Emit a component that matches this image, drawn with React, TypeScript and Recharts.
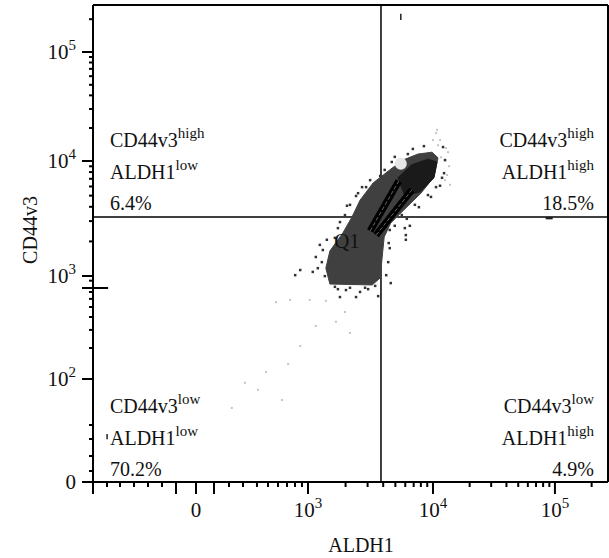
import React from 'react';
import { ScatterChart, Scatter, XAxis, YAxis, ReferenceLine } from 'recharts';

const FONT = '"Liberation Serif", "Times New Roman", serif';

// Display channels (0–1024) of the biexponential ALDH1 / CD44v3 axes
const xTicks = [0, 27.8, 53.7, 81.5, 109.4, 137.2, 165.0, 204.8, 240.6, 270.4, 298.2, 326.0, 347.9, 367.8, 385.7, 401.6, 415.5, 427.5, 502.2, 546.0, 577.0, 601.2, 620.9, 637.6, 651.9, 664.6, 676.0, 748.9, 791.7, 822.1, 845.5, 864.6, 880.9, 895.0, 907.4, 918.5, 991.5];
const xLongTicks = [0, 165.0, 204.8, 240.6, 427.5, 676.0, 918.5];
const xLabelTicks = [204.8, 427.5, 676.0, 918.5];
const xLabelBase = ['0', '10', '10', '10'];
const xLabelExp = ['', '3', '4', '5'];

const yTicks = [0, 23.6, 55.8, 92.3, 122.4, 221.1, 287.7, 326.5, 354.2, 375.7, 393.1, 407.9, 416.5, 432.2, 442.2, 516.5, 560.1, 590.8, 614.8, 634.4, 650.9, 665.3, 677.7, 689.1, 760.0, 800.8, 830.0, 852.7, 871.2, 886.9, 900.6, 912.4, 923.1, 993.5];
const yLongTicks = [0, 221.1, 416.5, 442.2, 689.1, 923.1];
const yLabelTicks = [0, 221.1, 442.2, 689.1, 923.1];
const yLabelBase = ['0', '10', '10', '10', '10'];
const yLabelExp = ['', '2', '3', '4', '5'];

// Quadrant gate positions
const aldhGate = 572.6;
const cd44Gate = 568.9;

// Dense event region outline
const clusterX = [471, 463, 471, 497, 515, 531, 557, 590, 616, 646, 674, 686, 678, 652, 618, 592, 579, 575, 571, 555];
const clusterY = [425, 459, 496, 535, 569, 605, 642, 670, 691, 704, 708, 696, 655, 620, 584, 556, 526, 483, 438, 423];
// Highest-density core
const coreX = [606, 634, 666, 684, 678, 650, 620];
const coreY = [653, 681, 693, 687, 653, 623, 614];

// Sparse events
const darkDotX = [455, 447, 443, 461, 437, 487, 503, 531, 547, 583, 587, 590, 592, 487, 505, 523, 543, 571, 600, 636, 658, 696, 700, 698, 690, 672, 648, 624, 412, 402, 620, 622, 622, 630, 491, 523, 567,
  457, 451, 465, 481, 491, 501, 511, 527, 535, 551, 580, 594, 626, 588, 590, 600, 614, 640, 666, 682, 694, 481, 511, 541, 561];
const darkDotY = [472, 459, 483, 442, 451, 414, 412, 408, 414, 444, 472, 502, 427, 545, 593, 614, 633, 657, 698, 715, 721, 719, 691, 663, 636, 612, 590, 565, 455, 444, 545, 530, 520, 550, 397, 397, 399,
  498, 509, 520, 524, 558, 573, 595, 620, 633, 648, 670, 687, 704, 513, 541, 550, 573, 595, 616, 633, 653, 419, 417, 417, 421];
const lightDotX = [690, 682, 706, 708, 700, 392, 431, 463, 364, 501, 483, 511, 443, 412, 388, 344, 328, 302, 376, 276, 686, 676, 702, 692, 704, 710, 684];
const lightDotY = [734, 749, 708, 678, 648, 391, 391, 389, 386, 365, 344, 320, 335, 292, 253, 236, 198, 213, 176, 159, 723, 734, 717, 697, 659, 638, 756];
const haloX = [612];
const haloY = [683];

// Gate drawing (bars of the P1 polygon)
const bar1X = [551, 608];
const bar1Y = [539, 646];
const bar2X = [563, 634];
const bar2Y = [530, 627];

const quadPct = ['6.4%', '18.5%', '70.2%', '4.9%'];

const zip = (xs: number[], ys: number[]) => xs.map((x, i) => ({ x, y: ys[i] }));

const XTick = (props: any) => {
  const { x, y, payload } = props;
  const v = payload.value;
  const long = xLongTicks.includes(v);
  const li = xLabelTicks.indexOf(v);
  return (
    <g>
      <line x1={x} x2={x} y1={y} y2={y + (long ? 12 : 5)} stroke="#000" strokeWidth={2} />
      {li >= 0 && (
        <text x={x} y={y + 35} textAnchor="middle" fontFamily={FONT} fontSize={21} fill="#111">
          {xLabelBase[li]}
          {xLabelExp[li] && (
            <tspan dy={-9} fontSize={15}>
              {xLabelExp[li]}
            </tspan>
          )}
        </text>
      )}
    </g>
  );
};

const YTick = (props: any) => {
  const { x, y, payload } = props;
  const v = payload.value;
  const long = yLongTicks.includes(v);
  const li = yLabelTicks.indexOf(v);
  return (
    <g>
      <line x1={x} x2={x - (long ? 11 : 4)} y1={y} y2={y} stroke="#000" strokeWidth={2} />
      {li >= 0 && (
        <text x={x - 17} y={y + 7} textAnchor="end" fontFamily={FONT} fontSize={21} fill="#111">
          {yLabelBase[li]}
          {yLabelExp[li] && (
            <tspan dy={-9} fontSize={15}>
              {yLabelExp[li]}
            </tspan>
          )}
        </text>
      )}
    </g>
  );
};

const polygonLine = (fill: string) => (p: any) => (
  <polygon
    points={(p.points || []).map((q: any) => `${q.x},${q.y}`).join(' ')}
    fill={fill}
    stroke={fill}
    strokeWidth={1}
  />
);

const Nothing = () => <g />;
const dot = (fill: string, s: number) => (p: any) => (
  <rect x={p.cx - s / 2} y={p.cy - s / 2} width={s} height={s} fill={fill} />
);

const QuadLabel = ({ x, y, anchor, sup1, sup2, pct }: any) => (
  <g fontFamily={FONT} fontSize={20} fill="#111" textAnchor={anchor}>
    <text x={x} y={y}>
      CD44v3<tspan dy={-9} fontSize={15}>{sup1}</tspan>
    </text>
    <text x={x} y={y + 32}>
      ALDH1<tspan dy={-9} fontSize={15}>{sup2}</tspan>
    </text>
    <text x={x} y={y + 63}>{pct}</text>
  </g>
);

export default function App() {
  return (
    <div style={{ position: 'absolute', left: 0, top: 0, width: 609, height: 558, background: '#fff' }}>
      <ScatterChart width={609} height={558} margin={{ top: 5, right: 1, bottom: 0, left: 0 }}>
        <XAxis
          type="number"
          dataKey="x"
          domain={[0, 1024]}
          ticks={xTicks}
          interval={0}
          height={76}
          tickSize={0}
          tickMargin={0}
          tickLine={false}
          axisLine={{ stroke: '#000', strokeWidth: 2 }}
          tick={<XTick />}
          allowDataOverflow
        />
        <YAxis
          type="number"
          dataKey="y"
          domain={[0, 1024]}
          ticks={yTicks}
          interval={0}
          width={93}
          tickSize={0}
          tickMargin={0}
          tickLine={false}
          axisLine={{ stroke: '#000', strokeWidth: 2 }}
          tick={<YTick />}
          allowDataOverflow
        />
        <Scatter data={zip(lightDotX, lightDotY)} fill="#c4c4c4" shape={dot('#c4c4c4', 2)} isAnimationActive={false} />
        <Scatter
          data={zip(clusterX, clusterY)}
          fill="#404040"
          shape={Nothing}
          line={polygonLine('#404040')}
          lineType="joint"
          isAnimationActive={false}
        />
        <Scatter
          data={zip(coreX, coreY)}
          fill="#1a1a1a"
          shape={Nothing}
          line={polygonLine('#1a1a1a')}
          lineType="joint"
          isAnimationActive={false}
        />
        <Scatter data={zip(darkDotX, darkDotY)} fill="#333" shape={dot('#333', 2.5)} isAnimationActive={false} />
        <Scatter
          data={zip(haloX, haloY)}
          fill="#e6e6e6"
          shape={(p: any) => <circle cx={p.cx} cy={p.cy} r={6} fill="#e6e6e6" />}
          isAnimationActive={false}
        />
        <Scatter data={zip(bar1X, bar1Y)} fill="#000" shape={Nothing} line={{ stroke: '#000', strokeWidth: 7 }} lineType="joint" isAnimationActive={false} />
        <Scatter data={zip(bar2X, bar2Y)} fill="#000" shape={Nothing} line={{ stroke: '#000', strokeWidth: 7 }} lineType="joint" isAnimationActive={false} />
        <Scatter data={zip(bar1X, bar1Y)} fill="#666" shape={Nothing} line={{ stroke: '#666', strokeWidth: 1, strokeDasharray: '4 2' }} lineType="joint" isAnimationActive={false} />
        <Scatter data={zip(bar2X, bar2Y)} fill="#666" shape={Nothing} line={{ stroke: '#666', strokeWidth: 1, strokeDasharray: '4 2' }} lineType="joint" isAnimationActive={false} />
        <ReferenceLine segment={[{ x: 483, y: 459.4 }, { x: 541, y: 459.4 }]} stroke="#000" strokeWidth={1.5} />
        <ReferenceLine segment={[{ x: 541, y: 459.4 }, { x: 541, y: 438 }]} stroke="#000" strokeWidth={1.5} />
        <ReferenceLine segment={[{ x: 612, y: 1005 }, { x: 612, y: 992 }]} stroke="#222" strokeWidth={1.5} />
        <ReferenceLine segment={[{ x: 900, y: 566 }, { x: 914, y: 566 }]} stroke="#222" strokeWidth={2} />
        <ReferenceLine segment={[{ x: 28, y: 103 }, { x: 28, y: 92 }]} stroke="#222" strokeWidth={1.5} />
        <ReferenceLine segment={[{ x: 0, y: 416.5 }, { x: 30, y: 416.5 }]} stroke="#000" strokeWidth={2} />
        <ReferenceLine x={aldhGate} stroke="#000" strokeWidth={1.5} />
        <ReferenceLine y={cd44Gate} stroke="#000" strokeWidth={1.5} />
        <ReferenceLine x={1024} stroke="#000" strokeWidth={2} />
        <ReferenceLine y={1024} stroke="#000" strokeWidth={2} />
      </ScatterChart>
      <svg width={609} height={558} style={{ position: 'absolute', left: 0, top: 0, pointerEvents: 'none' }}>
        <QuadLabel x={110} y={147} anchor="start" sup1="high" sup2="low" pct={quadPct[0]} />
        <QuadLabel x={594} y={147} anchor="end" sup1="high" sup2="high" pct={quadPct[1]} />
        <QuadLabel x={110} y={413} anchor="start" sup1="low" sup2="low" pct={quadPct[2]} />
        <QuadLabel x={594} y={413} anchor="end" sup1="low" sup2="high" pct={quadPct[3]} />
        <text x={347} y={248} textAnchor="middle" fontFamily={FONT} fontSize={21} fill="#111">Q1</text>
        <text x={361} y={552} textAnchor="middle" fontFamily={FONT} fontSize={20} fill="#111">ALDH1</text>
        <text
          x={0}
          y={0}
          transform="translate(37,230) rotate(-90)"
          textAnchor="middle"
          fontFamily={FONT}
          fontSize={20}
          fill="#111"
        >
          CD44v3
        </text>
      </svg>
    </div>
  );
}
